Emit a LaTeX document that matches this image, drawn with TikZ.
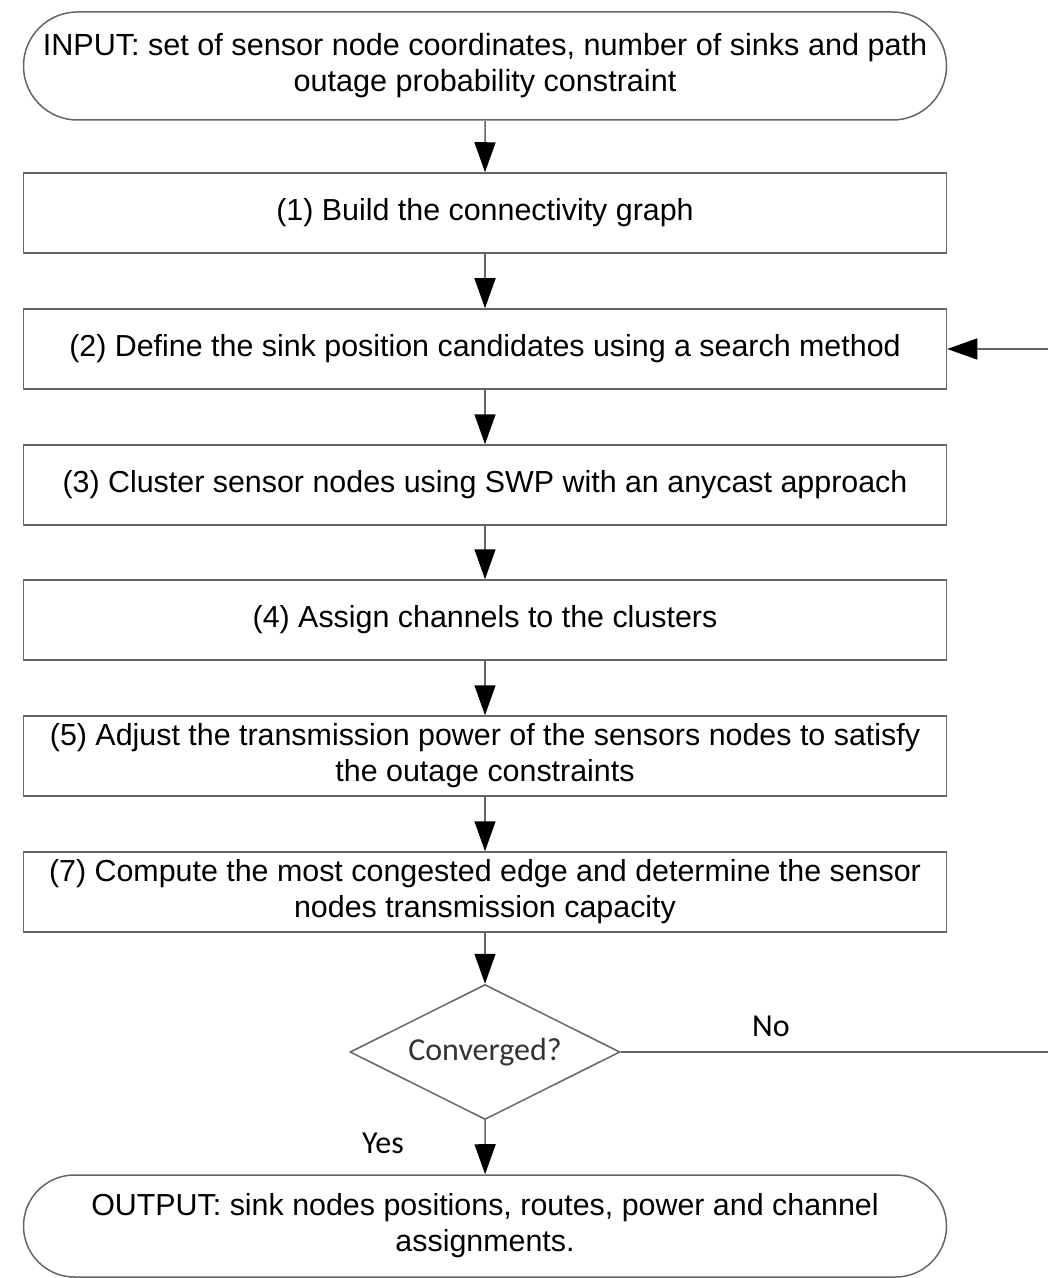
\documentclass[tikz,border=0pt]{standalone}
\usepackage{fontspec}
\setmainfont{Liberation Sans}
\newfontfamily\calibrifont{Carlito}
\usetikzlibrary{arrows.meta,shapes.geometric,shapes.misc}
\tikzset{
  stepbox/.style={draw=black!60, line width=0.75pt, rectangle, minimum width=461.5pt,
    minimum height=40pt, inner sep=0pt, align=center,
    font=\fontsize{15.2}{18}\selectfont},
  terminal/.style={stepbox, rounded rectangle, rounded rectangle arc length=180,
    minimum height=54pt},
  decision/.style={draw=black!60, line width=0.75pt, diamond, shape aspect=2,
    minimum width=135pt, minimum height=67.5pt, inner sep=0pt, text=black!80,
    font=\calibrifont\fontsize{16}{19}\selectfont},
  flow/.style={draw=black!60, line width=0.75pt, -{Triangle[length=15pt,width=10.5pt,color=black]}},
  answer/.style={font=\calibrifont\fontsize{16}{19}\selectfont}
}

\begin{document}
\begin{tikzpicture}[x=0.5pt, y=-0.5pt]
    \useasboundingbox (0,0) rectangle (1048,1278);

    \node [terminal, font=\fontsize{15.3}{18}\selectfont] (input) at (485,66) {INPUT: set of sensor node coordinates, number of sinks and path\\outage probability constraint};
    \node [stepbox] (build) at (485,213) {(1) Build the connectivity graph};
    \node [stepbox] (sinks) at (485,349) {(2) Define the sink position candidates using a search method};
    \node [stepbox] (cluster) at (485,485) {(3) Cluster sensor nodes using SWP with an anycast approach};
    \node [stepbox] (channels) at (485,620) {(4) Assign channels to the clusters};
    \node [stepbox] (power) at (485,756) {(5) Adjust the transmission power of the sensors nodes to satisfy\\the outage constraints};
    \node [stepbox] (capacity) at (485,892) {(7) Compute the most congested edge and determine the sensor\\nodes transmission capacity};
    \node [decision] (conv) at (485,1052) {Converged?};
    \node [terminal, minimum height=51pt] (output) at (485,1226) {OUTPUT: sink nodes positions, routes, power and channel\\assignments.};

    \coordinate (loopbot) at (1049,1052);
    \coordinate (looptop) at (1049,349);

    \draw [flow] (input) -- (build);
    \draw [flow] (build) -- (sinks);
    \draw [flow] (sinks) -- (cluster);
    \draw [flow] (cluster) -- (channels);
    \draw [flow] (channels) -- (power);
    \draw [flow] (power) -- (capacity);
    \draw [flow] (capacity) -- (conv);
    \draw [flow] (conv) -- (output);
    \draw [flow] (conv.east) -- (loopbot) -- (looptop) -- (sinks.east);

    \node [answer] (no) at (771,1026) {No};
    \node [answer] (yes) at (383,1143) {Yes};
\end{tikzpicture}
\end{document}
